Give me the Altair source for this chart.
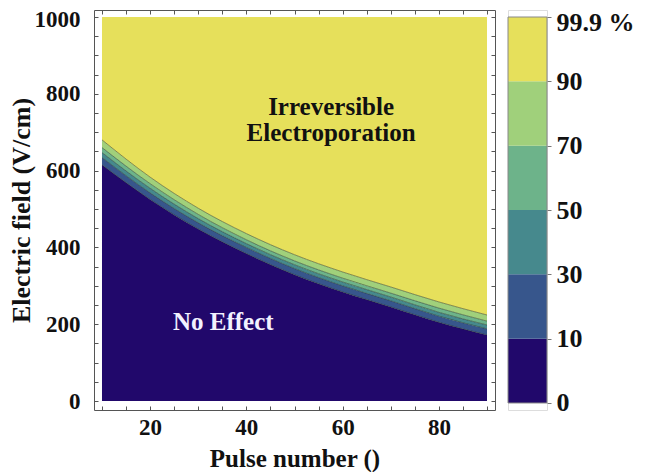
import altair as alt
import pandas as pd

# ---------------- data ----------------
pulses = [10, 20, 30, 40, 50, 60, 70, 80, 90]
# electric field (V/cm) of each probability contour
e10 = [615, 525, 448, 384, 329, 284, 245, 205, 172]
e30 = [634, 542, 464, 400, 345, 300, 261, 221, 188]
e50 = [647, 554, 475, 410, 355, 310, 271, 231, 198]
e70 = [660, 566, 486, 420, 365, 320, 281, 242, 208]
e90 = [680, 583, 502, 436, 381, 336, 297, 258, 224]
field_min = 0
field_max = 1000

band_names = ["0-10", "10-30", "30-50", "50-70", "70-90", "90-99.9"]
band_colors = ["#21086b", "#37568c", "#46898d", "#6db38a", "#a0d07b", "#e6e05b"]
bar_labels = ["0", "10", "30", "50", "70", "90", "99.9 %"]

x_ticks = [10, 15, 20, 25, 30, 35, 40, 45, 50, 55, 60, 65, 70, 75, 80, 85, 90]
x_labels = [20, 40, 60, 80]
y_ticks = list(range(0, 1001, 50))
y_labels = [0, 200, 400, 600, 800, 1000]

ann_text = ["Irreversible", "Electroporation", "No Effect"]
ann_n = [57.6, 57.6, 35.2]
ann_e = [766, 697, 206]
ann_color = ["#111111", "#111111", "#f2f2ff"]

# ---------------- tables ----------------
curves = [[field_min] * len(pulses), e10, e30, e50, e70, e90, [field_max] * len(pulses)]
rows = []
for b, name in enumerate(band_names):
    for i, n in enumerate(pulses):
        rows.append({"band": name, "order": b, "n": n, "lo": curves[b][i], "hi": curves[b + 1][i]})
bands = pd.DataFrame(rows)

line_rows = []
for lev, cur in zip(["10", "30", "50", "70", "90"], curves[1:6]):
    for n, e in zip(pulses, cur):
        line_rows.append({"level": lev, "n": n, "E": e})
lines = pd.DataFrame(line_rows)

ann = pd.DataFrame({"text": ann_text, "n": ann_n, "E": ann_e, "c": ann_color})

FONT = "Liberation Serif"

xscale = alt.Scale(domain=[8.34, 91.66], nice=False, zero=False)
yscale = alt.Scale(domain=[-23.4, 1018.2], nice=False, zero=False)
cscale = alt.Scale(domain=band_names, range=band_colors)

def lab_expr(vals):
    return "indexof([" + ",".join(str(v) for v in vals) + "], datum.value) >= 0 ? datum.value : ''"

x_axis = alt.Axis(values=x_ticks, labelExpr=lab_expr(x_labels), title="Pulse number ()",
                  domain=False, grid=False, offset=-4, tickSize=4, tickColor="#555",
                  labelFont=FONT, labelFontSize=23, labelFontWeight="bold", labelColor="#111",
                  labelPadding=6, labelFlush=False,
                  titleFont=FONT, titleFontSize=25, titleFontWeight="bold", titleColor="#111",
                  titlePadding=7)
y_axis = alt.Axis(values=y_ticks, labelExpr=lab_expr(y_labels), title="Electric field (V/cm)",
                  domain=False, grid=False, offset=-4, tickSize=4, tickColor="#555",
                  labelFont=FONT, labelFontSize=23, labelFontWeight="bold", labelColor="#111",
                  labelPadding=14, labelFlush=False,
                  labelOffset={"condition": {"test": "datum.value == 1000", "value": 3}, "value": 0},
                  titleFont=FONT, titleFontSize=26, titleFontWeight="bold", titleColor="#111",
                  titlePadding=0)
x_axis_top = alt.Axis(values=x_ticks, labels=False, title=None, orient="top", domain=False,
                      grid=False, offset=-4, tickSize=4, tickColor="#555")
y_axis_right = alt.Axis(values=y_ticks, labels=False, title=None, orient="right", domain=False,
                        grid=False, offset=-4, tickSize=4, tickColor="#555")

areas = alt.Chart(bands).mark_area(interpolate="monotone", strokeWidth=0).encode(
    x=alt.X("n:Q", scale=xscale, axis=x_axis),
    y=alt.Y("lo:Q", scale=yscale, axis=y_axis),
    y2="hi:Q",
    color=alt.Color("band:N", scale=cscale, legend=None),
    detail="band:N",
)

contours = alt.Chart(lines).mark_line(interpolate="monotone", color="#1c2b1c",
                                      strokeWidth=0.9, opacity=0.55).encode(
    x=alt.X("n:Q", scale=xscale, axis=x_axis_top),
    y=alt.Y("E:Q", scale=yscale, axis=y_axis_right),
    detail="level:N",
)

texts = alt.Chart(ann).mark_text(font=FONT, fontSize=25, fontWeight="bold",
                                 baseline="middle", align="center").encode(
    x=alt.X("n:Q", scale=xscale, axis=None),
    y=alt.Y("E:Q", scale=yscale, axis=None),
    text="text:N",
    color=alt.Color("c:N", scale=None),
)

main = alt.layer(areas, contours, texts).resolve_axis(x="independent", y="independent").properties(
    width=401, height=400,
    view=alt.ViewBackground(stroke="#555", strokeWidth=1),
)

# ---------------- colour bar ----------------
bar = pd.DataFrame({"band": band_names, "i0": list(range(6)), "i1": list(range(1, 7)),
                    "x0": [0] * 6, "x1": [1] * 6})
frame = pd.DataFrame({"i0": [0], "i1": [6], "x0": [0], "x1": [1]})
bscale = alt.Scale(domain=[-0.109, 6.109], nice=False, zero=False)
bx = alt.Scale(domain=[0, 1], nice=False)
label_expr = "[" + ",".join("'" + s + "'" for s in bar_labels) + "][datum.value]"

bar_rects = alt.Chart(bar).mark_rect().encode(
    x=alt.X("x0:Q", scale=bx, axis=None), x2="x1:Q",
    y=alt.Y("i0:Q", scale=bscale,
            axis=alt.Axis(orient="right", values=list(range(7)), labelExpr=label_expr,
                          title=None, domain=False, grid=False, tickSize=4, tickColor="#777",
                          labelFont=FONT, labelFontSize=26, labelFontWeight="bold",
                          labelColor="#111", labelPadding=5, labelFlush=False,
                          labelOffset={"condition": {"test": "datum.value == 6", "value": 5},
                                       "value": 0},
                          labelBaseline="middle")),
    y2="i1:Q",
    color=alt.Color("band:N", scale=cscale, legend=None),
)
bar_frame = alt.Chart(frame).mark_rect(fill=None, stroke="#888", strokeWidth=1).encode(
    x=alt.X("x0:Q", scale=bx, axis=None), x2="x1:Q",
    y=alt.Y("i0:Q", scale=bscale), y2="i1:Q",
)
colorbar = alt.layer(bar_rects, bar_frame).properties(width=39, height=400)

chart = alt.hconcat(main, colorbar, spacing=11).properties(
    padding={"left": -1, "top": 0, "right": 0, "bottom": 0},
).configure_view(stroke=None).configure(background="white")

chart.save("out.html", embed_options={"renderer": "svg", "actions": False})
